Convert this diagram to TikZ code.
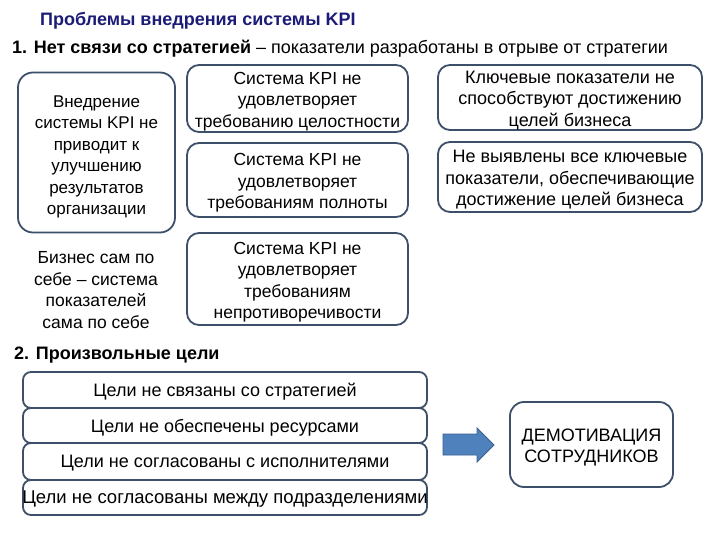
\documentclass[tikz,border=0pt]{standalone}
\usepackage{fontspec}
\setmainfont{Liberation Sans}
\definecolor{boxline}{HTML}{3E4F6A}
\definecolor{titleblue}{HTML}{1C1C78}
\definecolor{arrowblue}{HTML}{4F81BD}
\definecolor{arrowline}{HTML}{3A6090}
\tikzset{
  txt/.style={font=\fontsize{#1}{21.5}\selectfont, align=center, inner sep=0pt, yshift=-3pt},
  txt/.default=17.5,
  rbox/.style={draw=boxline, line width=1.8pt, fill=white, rounded corners=#1, inner sep=0pt},
  rbox/.default=12pt
}
\begin{document}
\begin{tikzpicture}[x=1pt,y=-1pt]
\useasboundingbox[fill=white] (0,0) rectangle (720,540);
% titles
\node[anchor=west, inner sep=0pt, text=titleblue, font=\fontsize{18}{20}\selectfont\bfseries] (title) at (40,21) {Проблемы внедрения системы KPI};
\node[anchor=west, inner sep=0pt, font=\fontsize{18}{20}\selectfont] (h1) at (12,49) {\textbf{1. Нет связи со стратегией} – показатели разработаны в отрыве от стратегии};
% left big box
\node[rbox=15pt, minimum width=157pt, minimum height=160pt] (b0) at (96.5,152.5) {};
\node[txt=17, yshift=-1.5pt] (t0) at (b0) {Внедрение\\системы KPI не\\приводит к\\улучшению\\результатов\\организации};
\node[txt=17.5] (t1) at (96,287) {Бизнес сам по\\себе – система\\показателей\\сама по себе};
% middle boxes
\node[rbox, minimum width=221pt, minimum height=67pt] (m1) at (297.5,98.5) {};
\node[txt] (tm1) at (m1) {Система KPI не\\удовлетворяет\\требованию целостности};
\node[rbox, minimum width=221pt, minimum height=74pt] (m2) at (297.5,180) {};
\node[txt] (tm2) at (m2) {Система KPI не\\удовлетворяет\\требованиям полноты};
\node[rbox, minimum width=221pt, minimum height=92pt] (m3) at (297.5,279) {};
\node[txt] (tm3) at (m3) {Система KPI не\\удовлетворяет\\требованиям\\непротиворечивости};
% right boxes
\node[rbox, minimum width=264pt, minimum height=65pt] (r1) at (570,97.5) {};
\node[txt=18] (tr1) at (r1) {Ключевые показатели не\\способствуют достижению\\целей бизнеса};
\node[rbox, minimum width=264pt, minimum height=70pt] (r2) at (570,177) {};
\node[txt=18] (tr2) at (r2) {Не выявлены все ключевые\\показатели, обеспечивающие\\достижение целей бизнеса};
% section 2
\node[anchor=west, inner sep=0pt, font=\fontsize{18}{20}\selectfont\bfseries] (h2) at (14,355) {2. Произвольные цели};
\node[rbox=8pt, minimum width=404pt, minimum height=36pt] (g1) at (225,390) {};
\node[txt=18, yshift=1pt] (tg1) at (g1) {Цели не связаны со стратегией};
\node[rbox=8pt, minimum width=404pt, minimum height=35pt] (g2) at (225,425.5) {};
\node[txt=18, yshift=1pt] (tg2) at (g2) {Цели не обеспечены ресурсами};
\node[rbox=8pt, minimum width=404pt, minimum height=37pt] (g3) at (225,461.5) {};
\node[txt=18, yshift=1pt] (tg3) at (g3) {Цели не согласованы с исполнителями};
\node[rbox=8pt, minimum width=404pt, minimum height=35pt] (g4) at (225,497.5) {};
\node[txt=18.5, yshift=1pt] (tg4) at (g4) {Цели не согласованы между подразделениями};
% arrow
\draw[arrowline, fill=arrowblue, line width=0.8pt]
  (443,434) -- (477,434) -- (477,428) -- (494,445) -- (477,462) -- (477,455) -- (443,455) -- cycle;
% demotivation
\node[rbox=14pt, minimum width=163pt, minimum height=85pt] (d) at (591.5,444.5) {};
\node[txt=18] (td) at (d) {ДЕМОТИВАЦИЯ\\СОТРУДНИКОВ};
\end{tikzpicture}
\end{document}
